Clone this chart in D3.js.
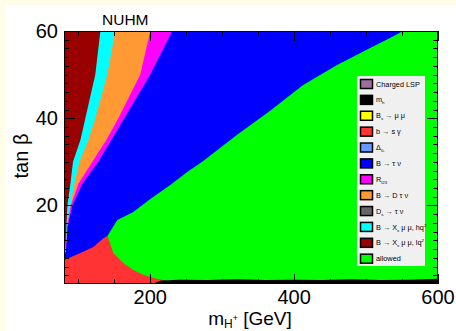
<!DOCTYPE html>
<html><head><meta charset="utf-8">
<script src="https://cdn.jsdelivr.net/npm/d3@7"></script>
<style>
html,body{margin:0;padding:0;background:#fffde8;}
svg{display:block;font-family:"Liberation Sans",Arial,Helvetica,sans-serif;}
</style></head>
<body>
<svg id="c" width="456" height="331"></svg>
<script>
// ---------- data ----------
const title = "NUHM";
const xDomain = [80, 600];
const yDomain = [2, 60];
const xTickLabels = [200, 400, 600];
const yTickLabels = [20, 40, 60];

// allowed (green) region: upper boundary tan(beta) vs m_H+
const greenMH  = [140.3, 154.2, 176.4, 200, 227.8, 251.4, 273.6, 320.8, 366.7, 412.5, 459.7, 505.6, 533.3, 551.4, 600];
const greenTop = [13.0, 16.7, 18.5, 21.5, 24.7, 27.7, 30.2, 36.2, 41.7, 47.6, 52.2, 56.1, 58.4, 60, 60];

// b -> s gamma (red) region upper boundary
const redMH  = [80, 102.8, 120.8, 134.7, 140.3, 141.7, 148.6, 162.5, 176.4, 190.3, 204.2, 218, 226];
const redTop = [7.5, 9.1, 10.5, 12.5, 13.0, 12.5, 9.1, 6.8, 5.2, 4.1, 3.4, 2.9, 2.0];

// m_h (black) strip upper boundary
const blackMH  = [205, 215, 240, 280, 320, 360, 400, 440, 480, 520, 560, 600];
const blackTop = [2.2, 2.8, 3.0, 2.9, 3.1, 2.9, 3.0, 2.9, 3.1, 2.9, 3.0, 3.2];

// left bands: right edge (m_H+) at each tan(beta)
const bandTB      = [8, 10, 15, 20, 25, 30, 35, 40, 50, 60];
const lqEdge      = [80, 81.9, 83.3, 84.7, 88.9, 92.5, 102.8, 109.7, 123.5, 130.6];
const hqEdge      = [80, 82.5, 84.0, 88.9, 94.4, 101.4, 113.9, 123.5, 140.3, 151.4];
const dtaunuEdge  = [80, 82.5, 84.0, 89.5, 100.0, 119.4, 138.9, 155.6, 186.1, 200.0];
const rl23Edge    = [80, 83.0, 85.0, 91.7, 105.6, 127.8, 145.8, 163.9, 200.0, 230.6];

// legend
const legendLabels = ["Charged LSP", "m_{h}", "B_{s} → μ μ", "b → s γ", "Δ_{0-}", "B → τ ν",
  "R_{l23}", "B → D τ ν", "D_{s} → τ ν", "B → X_{s} μ μ, hq^{2}", "B → X_{s} μ μ, lq^{2}", "allowed"];
const legendColors = ["#9c6f9c", "#000000", "#ffff00", "#ff3333", "#6699ff", "#0000ff",
  "#ff00ff", "#ff9933", "#666666", "#00ffff", "#990000", "#00ff00"];

// ---------- drawing ----------
const svg = d3.select("#c");
const L = 64, R = 438, T = 31, B = 284;
const x = d3.scaleLinear().domain(xDomain).range([L, R]);
const y = d3.scaleLinear().domain(yDomain).range([B, T]);

svg.append("rect").attr("x", 5).attr("y", 5).attr("width", 451).attr("height", 326).attr("fill", "#ffffff");

svg.append("clipPath").attr("id", "clip").append("rect")
  .attr("x", L).attr("y", T).attr("width", R - L).attr("height", B - T);
const g = svg.append("g").attr("clip-path", "url(#clip)");

// blue background region (B -> tau nu)
g.append("rect").attr("x", L).attr("y", T).attr("width", R - L).attr("height", B - T)
  .attr("fill", legendColors[5]);

const zipXY = (xs, ys) => xs.map((v, i) => ({m: v, t: ys[i]}));
const areaUp = d3.area().x(d => x(d.m)).y0(y(yDomain[0])).y1(d => y(d.t));

g.append("path").datum(zipXY(greenMH, greenTop)).attr("d", areaUp).attr("fill", legendColors[11]);
g.append("path").datum(zipXY(redMH, redTop)).attr("d", areaUp).attr("fill", legendColors[3]);
g.append("path").datum(zipXY(blackMH, blackTop)).attr("d", areaUp).attr("fill", legendColors[1]);

const areaLeft = d3.area().y(d => y(d.t)).x0(x(xDomain[0])).x1(d => x(d.m));
[[rl23Edge, 6], [dtaunuEdge, 7], [hqEdge, 9], [lqEdge, 10]].forEach(([edge, ci]) => {
  g.append("path").datum(bandTB.map((t, i) => ({t: t, m: edge[i]})))
    .attr("d", areaLeft).attr("fill", legendColors[ci]);
});

// ticks (inward on all four sides)
const ax = svg.append("g").attr("stroke", "#000").attr("stroke-width", 1);
d3.range(100, 601, 50).forEach(v => {
  const len = (v % 200 === 0) ? 10 : 5;
  const px = Math.round(x(v)) + 0.5;
  ax.append("line").attr("x1", px).attr("x2", px).attr("y1", B).attr("y2", B - len);
  ax.append("line").attr("x1", px).attr("x2", px).attr("y1", T).attr("y2", T + len);
});
d3.range(4, 61, 2).forEach(v => {
  const len = (v % 20 === 0) ? 11 : 5;
  const py = Math.round(y(v)) + 0.5;
  ax.append("line").attr("x1", L).attr("x2", L + len).attr("y1", py).attr("y2", py);
  ax.append("line").attr("x1", R).attr("x2", R - len).attr("y1", py).attr("y2", py);
});
svg.append("rect").attr("x", L + 0.5).attr("y", T + 0.5).attr("width", R - L - 1).attr("height", B - T - 1)
  .attr("fill", "none").attr("stroke", "#000").attr("stroke-width", 1);

// tick labels
xTickLabels.forEach(v => {
  svg.append("text").attr("x", x(v)).attr("y", 304).attr("text-anchor", "middle")
    .attr("font-size", 20).text(v);
});
yTickLabels.forEach(v => {
  svg.append("text").attr("x", 58).attr("y", y(v) + 7).attr("text-anchor", "end")
    .attr("font-size", 20).text(v);
});

// axis titles
const xt = svg.append("text").attr("x", 250).attr("y", 325).attr("text-anchor", "middle").attr("font-size", 19);
xt.append("tspan").text("m");
xt.append("tspan").attr("font-size", 12).attr("dy", 2.5).text("H");
xt.append("tspan").attr("font-size", 9).attr("dy", -6.5).text("+");
xt.append("tspan").attr("font-size", 19).attr("dy", 4).text(" [GeV]");

svg.append("text").attr("transform", "translate(28,156) rotate(-90)")
  .attr("text-anchor", "middle").attr("font-size", 20).text("tan β");

svg.append("text").attr("x", 102).attr("y", 25).attr("font-size", 15.5).text(title);

// legend
const lg = svg.append("g");
lg.append("rect").attr("x", 357).attr("y", 76).attr("width", 68).attr("height", 190).attr("fill", "#f0f0f0");
function richText(sel, s, fs) {
  const parts = s.split(/(_\{[^}]*\}|\^\{[^}]*\})/).filter(p => p.length);
  let shift = 0;
  parts.forEach(p => {
    let txt = p, target = 0, size = fs;
    if (p.startsWith("_{")) { txt = p.slice(2, -1); target = 2; size = fs * 0.6; }
    else if (p.startsWith("^{")) { txt = p.slice(2, -1); target = -3; size = fs * 0.6; }
    sel.append("tspan").attr("dy", target - shift).attr("font-size", size).text(txt);
    shift = target;
  });
}
legendLabels.forEach((lab, i) => {
  const cy = 84 + i * 15.88;
  lg.append("rect").attr("x", 360.5).attr("y", cy - 4.5).attr("width", 12).attr("height", 9)
    .attr("fill", legendColors[i]).attr("stroke", "#000").attr("stroke-width", 1.5);
  const t = lg.append("text").attr("x", 376).attr("y", cy + 2.6).attr("font-size", 7.3).attr("fill", "#000");
  richText(t, lab, 7.3);
});
</script>
</body></html>
